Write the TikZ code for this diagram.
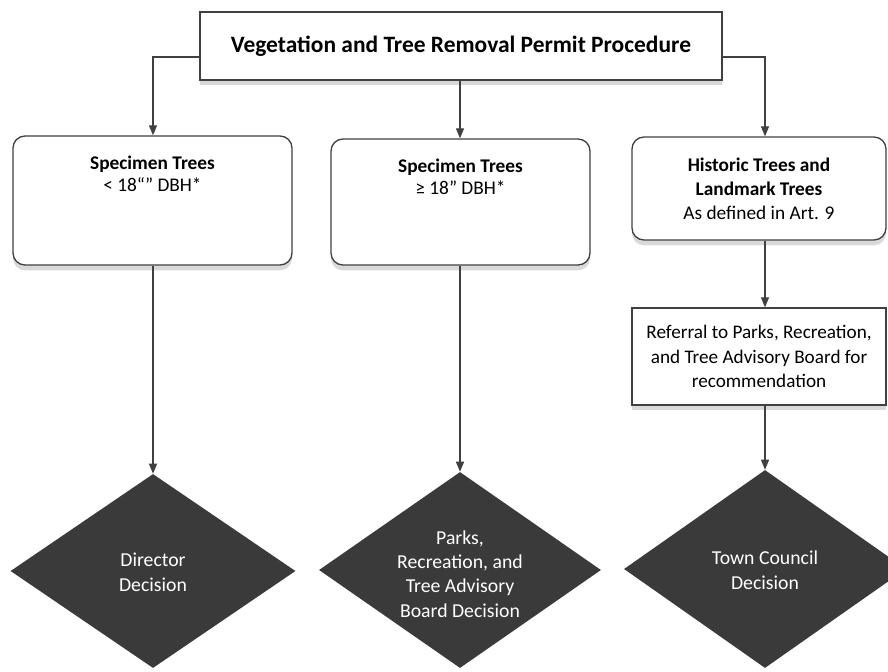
\documentclass[tikz,border=0pt]{standalone}
\usepackage{fontspec}
\setmainfont{Carlito}
\usetikzlibrary{shapes.geometric,arrows.meta,shadows}
\definecolor{lineC}{HTML}{404040}
\definecolor{diaC}{HTML}{3A3A3A}
\begin{document}
\begin{tikzpicture}[x=0.75pt,y=-0.75pt,
  conn/.style={draw=lineC,line width=0.9pt,-{Triangle[length=7.5pt,width=6pt]}},
  boxshadow/.style={drop shadow={shadow xshift=0pt,shadow yshift=-4pt,opacity=0.3,fill=gray}},
  titlebox/.style={draw=lineC,line width=1pt,fill=white,boxshadow,inner sep=0pt},
  roundbox/.style={draw=lineC,line width=1pt,fill=white,rounded corners=9pt,boxshadow,inner sep=0pt},
  sqbox/.style={draw=lineC,line width=1pt,fill=white,boxshadow,inner sep=0pt,align=center},
  boxtext/.style={align=center,inner sep=0pt,font=\fontsize{14.5}{16.5}\selectfont},
  decision/.style={diamond,fill=diaC,draw=none,inner sep=0pt},
  dtext/.style={text=white,align=center,inner sep=0pt,font=\fontsize{14.8}{18.3}\selectfont}
]
\useasboundingbox (0,0) rectangle (888,671);
% title
\node[titlebox,minimum width=391.5pt,minimum height=51pt,
  font=\fontsize{17.6}{20}\selectfont\bfseries] (title) at (461,46)
  {Vegetation and Tree Removal Permit Procedure};
% level 1 boxes
\node[roundbox,minimum width=209.25pt,minimum height=96.75pt] (b1) at (152.5,200.5) {};
\node[boxtext,anchor=north] (b1t) at ([yshift=-15pt]b1.north)
  {\textbf{Specimen Trees}\\< 18“" DBH*};
\node[roundbox,minimum width=194.25pt,minimum height=94.5pt] (b2) at (460.5,202) {};
\node[boxtext,anchor=north] (b2t) at ([yshift=-15pt]b2.north)
  {\textbf{Specimen Trees}\\≥ 18" DBH*};
\node[roundbox,minimum width=190.5pt,minimum height=77.25pt,boxtext,
  font=\fontsize{14.5}{18}\selectfont] (b3) at (759,188.5)
  {\textbf{Historic Trees and}\\\textbf{Landmark Trees}\\As defined in Art. 9};
% referral
\node[sqbox,minimum width=190.5pt,minimum height=72.75pt,
  font=\fontsize{14.4}{18.3}\selectfont] (ref) at (759,356.5)
  {Referral to Parks, Recreation,\\and Tree Advisory Board for\\recommendation};
% decisions
\node[decision,minimum width=213.75pt,minimum height=145.5pt] (d1) at (153,571) {};
\node[dtext] (d1t) at ([yshift=-1pt]d1.center) {Director\\Decision};
\node[decision,minimum width=211.5pt,minimum height=147pt] (d2) at (460,570) {};
\node[dtext] (d2t) at ([yshift=-3pt]d2.center) {Parks,\\Recreation, and\\Tree Advisory\\Board Decision};
\node[decision,minimum width=211.5pt,minimum height=148.5pt] (d3) at (765,569) {};
\node[dtext] (d3t) at ([yshift=-1pt]d3.center) {Town Council\\Decision};
% connectors
\coordinate (lc) at (153,57);
\coordinate (mc) at (460,57);
\coordinate (rc) at (765,57);
\draw[conn] (title.west |- lc) -- (lc) -- (lc |- b1.north);
\draw[conn] (title.south -| mc) -- (mc |- b2.north);
\draw[conn] (title.east |- rc) -- (rc) -- (rc |- b3.north);
\draw[conn] (b1.south -| lc) -- (d1.north);
\draw[conn] (b2.south -| mc) -- (d2.north);
\draw[conn] (b3.south -| rc) -- (rc |- ref.north);
\draw[conn] (ref.south -| rc) -- (d3.north);
\end{tikzpicture}
\end{document}
